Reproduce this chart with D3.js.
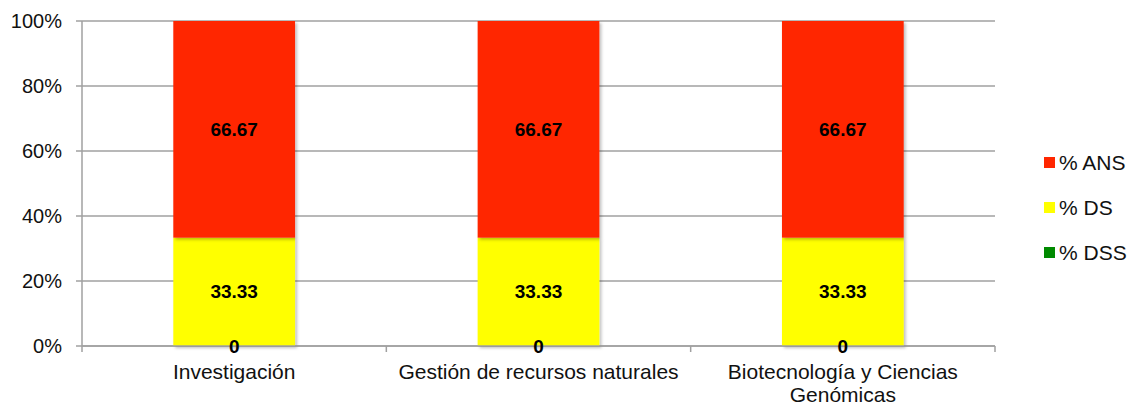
<!DOCTYPE html>
<html>
<head>
<meta charset="utf-8">
<script src="https://cdn.jsdelivr.net/npm/d3@7"></script>
<style>
  body { margin: 0; background: #fff; }
  svg { font-family: "Liberation Sans", Arial, sans-serif; }
</style>
</head>
<body>
<svg width="1130" height="407"></svg>
<script>
const categories = ["Investigación", "Gestión de recursos naturales", "Biotecnología y Ciencias Genómicas"];
const seriesNames = ["% DSS", "% DS", "% ANS"];
const dss = [0, 0, 0];
const ds = [33.33, 33.33, 33.33];
const ans = [66.67, 66.67, 66.67];
const yTicks = [0, 20, 40, 60, 80, 100];
const colors = ["#008A00", "#FFFF00", "#FF2600"];

// Plot area
const margin = { top: 21, left: 82, right: 135, bottom: 61 };
const width = 1130 - margin.left - margin.right;
const height = 407 - margin.top - margin.bottom;

const svg = d3.select("svg");
const g = svg.append("g").attr("transform", "translate(" + margin.left + "," + margin.top + ")");

const x = d3.scaleBand().domain(categories).range([0, width]);
const y = d3.scaleLinear().domain([0, 100]).range([height, 0]);
const barW = x.bandwidth() * 0.4;

// gridlines
g.selectAll(".grid")
  .data(yTicks)
  .enter()
  .append("line")
  .attr("x1", -6)
  .attr("x2", width)
  .attr("y1", d => y(d))
  .attr("y2", d => y(d))
  .attr("stroke", "#a0a0a0")
  .attr("stroke-width", 1.5);

// y axis line
g.append("line")
  .attr("x1", 0).attr("x2", 0)
  .attr("y1", 0).attr("y2", height)
  .attr("stroke", "#a0a0a0").attr("stroke-width", 1.5);

// y tick labels
g.selectAll(".ylab")
  .data(yTicks)
  .enter()
  .append("text")
  .attr("x", -20)
  .attr("y", d => y(d))
  .attr("dy", "0.35em")
  .attr("text-anchor", "end")
  .style("font-size", "20px")
  .attr("fill", "#111")
  .text(d => d + "%");

// stack data
const table = categories.map((c, i) => ({ cat: c, "% DSS": dss[i], "% DS": ds[i], "% ANS": ans[i] }));
const stack = d3.stack().keys(seriesNames)(table);

// shadow filter
const defs = svg.append("defs");
const f = defs.append("filter").attr("id", "sh").attr("x", "-10%").attr("y", "-10%").attr("width", "130%").attr("height", "130%");
f.append("feDropShadow").attr("dx", 2).attr("dy", 2).attr("stdDeviation", 1.5).attr("flood-color", "#000").attr("flood-opacity", 0.25);

const layers = g.selectAll(".layer")
  .data(stack)
  .enter()
  .append("g")
  .attr("fill", (d, i) => colors[i]);

layers.selectAll("rect")
  .data(d => d)
  .enter()
  .append("rect")
  .attr("x", d => x(d.data.cat) + (x.bandwidth() - barW) / 2)
  .attr("y", d => y(d[1]))
  .attr("width", barW)
  .attr("height", d => y(d[0]) - y(d[1]))
  .attr("filter", "url(#sh)");

// x axis line + ticks
g.append("line")
  .attr("x1", 0).attr("x2", width)
  .attr("y1", height).attr("y2", height)
  .attr("stroke", "#a0a0a0").attr("stroke-width", 1.5);
const xTickPos = d3.range(categories.length + 1).map(i => i * x.step());
g.selectAll(".xtick")
  .data(xTickPos)
  .enter()
  .append("line")
  .attr("x1", d => d).attr("x2", d => d)
  .attr("y1", height).attr("y2", height + 6)
  .attr("stroke", "#a0a0a0").attr("stroke-width", 1.5);

// data labels
stack.forEach(s => {
  g.selectAll(".lab-" + s.index)
    .data(s)
    .enter()
    .append("text")
    .attr("x", d => x(d.data.cat) + x.bandwidth() / 2)
    .attr("y", d => y((d[0] + d[1]) / 2))
    .attr("dy", "0.35em")
    .attr("text-anchor", "middle")
    .style("font-size", "19px")
    .style("font-weight", "bold")
    .attr("fill", "#000")
    .text(d => d.data[s.key]);
});

// category labels (wrapped)
const catLines = [["Investigación"], ["Gestión de recursos naturales"], ["Biotecnología y Ciencias", "Genómicas"]];
categories.forEach((c, i) => {
  const t = g.append("text")
    .attr("x", x(c) + x.bandwidth() / 2)
    .attr("y", height + 33)
    .attr("text-anchor", "middle")
    .style("font-size", "21px")
    .attr("fill", "#111");
  catLines[i].forEach((ln, j) => {
    t.append("tspan")
      .attr("x", x(c) + x.bandwidth() / 2)
      .attr("dy", j === 0 ? 0 : 23)
      .text(ln);
  });
});

// legend
const legend = svg.append("g").attr("transform", "translate(1044,157)");
const legendOrder = ["% ANS", "% DS", "% DSS"];
legendOrder.forEach((name, i) => {
  const row = legend.append("g").attr("transform", "translate(0," + i * 45 + ")");
  row.append("rect").attr("width", 11).attr("height", 11)
    .attr("fill", colors[seriesNames.indexOf(name)]);
  row.append("text").attr("x", 15).attr("y", 6).attr("dy", "0.35em")
    .style("font-size", "21px").attr("fill", "#111").text(name);
});
</script>
</body>
</html>
